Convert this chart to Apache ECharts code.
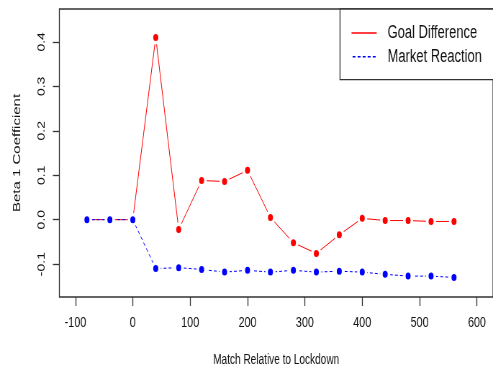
<!DOCTYPE html>
<html>
<head>
<meta charset="utf-8">
<script src="https://cdn.jsdelivr.net/npm/echarts@6/dist/echarts.min.js"></script>
<style>
  html, body { margin: 0; padding: 0; background: #fff; }
  #frame { width: 493px; height: 373px; overflow: hidden; position: relative; }
  /* the plot is laid out on a wider canvas and condensed horizontally */
  #chart { width: 685px; height: 373px; transform: scaleX(0.7197); transform-origin: 0 0; }
</style>
</head>
<body>
<div id="frame"><div id="chart"></div></div>
<script>
// match index relative to lockdown
const matchOffset = [-80, -40, 0, 40, 80, 120, 160, 200, 240, 280, 320, 360, 400, 440, 480, 520, 560];
// beta 1 coefficient, goal difference model
const goalDifference = [0, 0, 0, 0.410, -0.022, 0.088, 0.086, 0.111, 0.005, -0.052, -0.076, -0.034, 0.003, -0.002, -0.002, -0.004, -0.004];
// beta 1 coefficient, market reaction model
const marketReaction = [0, 0, 0, -0.110, -0.108, -0.112, -0.118, -0.114, -0.118, -0.114, -0.118, -0.116, -0.118, -0.123, -0.127, -0.127, -0.130];
// axis ticks
const xTicks = [-100, 0, 100, 200, 300, 400, 500, 600];
const yTicks = [-0.1, 0.0, 0.1, 0.2, 0.3, 0.4];

const FONT = "'Liberation Sans', Arial, Helvetica, sans-serif";
const INK = '#333';

const pairs = ys => matchOffset.map((x, i) => [x, ys[i]]);

// legend keys: a solid stroke and a dashed stroke, padded vertically to the key box
const W = 35, H = 18;
const pad = `M0,0L0.01,0L0,0ZM0,${H}L0.01,${H}L0,${H}Z`;
const solidKey = `path://${pad}M0,${H/2-0.7}h${W}v1.4h-${W}Z`;
let dashed = '';
for (let x = 0; x < W; x += 7) dashed += `M${x},${H/2-0.7}h4v1.4h-4Z`;
const dashedKey = `path://${pad}${dashed}`;

const chart = echarts.init(document.getElementById('chart'));
chart.setOption({
  animation: false,
  backgroundColor: '#fff',
  textStyle: { fontFamily: FONT },
  grid: {
    left: 82.5, right: -3, top: 9, bottom: 76,
    show: true, borderColor: INK, borderWidth: 1.3, backgroundColor: 'transparent'
  },
  xAxis: {
    type: 'value', min: -128, max: 628,
    name: 'Match Relative to Lockdown', nameLocation: 'middle', nameGap: 56,
    nameTextStyle: { fontSize: 14, color: '#111', fontFamily: FONT },
    axisLine: { show: false, onZero: false },
    splitLine: { show: false },
    axisTick: { show: true, length: 9, customValues: xTicks, lineStyle: { color: INK, width: 1.3 } },
    axisLabel: { customValues: xTicks, margin: 18, fontSize: 15, color: '#111', fontFamily: FONT,
      formatter: v => String(v) }
  },
  yAxis: {
    type: 'value', min: -0.174, max: 0.474,
    name: 'Beta 1 Coefficient', nameLocation: 'middle', nameGap: 51, nameRotate: 90,
    nameTextStyle: { fontSize: 15, color: '#111', fontFamily: FONT },
    axisLine: { show: false, onZero: false },
    splitLine: { show: false },
    axisTick: { show: true, length: 9, customValues: yTicks, lineStyle: { color: INK, width: 1.3 } },
    axisLabel: { customValues: yTicks, rotate: 90, margin: 17, fontSize: 14, color: '#111', fontFamily: FONT,
      formatter: v => v.toFixed(1) }
  },
  legend: {
    orient: 'vertical', left: 472.4, top: 9,
    padding: [15, 60, 14, 16],
    itemWidth: W, itemHeight: H, itemGap: 5.7,
    backgroundColor: '#fff', borderColor: INK, borderWidth: 1.3, borderRadius: 0,
    selectedMode: false,
    itemStyle: { borderWidth: 0 },
    textStyle: { fontSize: 18, color: '#111', fontFamily: FONT, padding: [0, 0, 0, 10] },
    data: [
      { name: 'Goal Difference', icon: solidKey, itemStyle: { color: '#ff0000', borderWidth: 0 } },
      { name: 'Market Reaction', icon: dashedKey, itemStyle: { color: '#0000ff', borderWidth: 0 } }
    ]
  },
  series: [
    {
      name: 'Goal Difference', type: 'line', data: pairs(goalDifference),
      symbol: 'circle', symbolSize: 10.5, silent: true,
      lineStyle: { color: '#ff0000', width: 1 },
      itemStyle: { color: '#ff0000', borderColor: '#fff', borderWidth: 3.5 },
      emphasis: { disabled: true }
    },
    {
      name: 'Market Reaction', type: 'line', data: pairs(marketReaction),
      symbol: 'circle', symbolSize: 10.5, silent: true,
      lineStyle: { color: '#0000ff', width: 1, type: [4, 3] },
      itemStyle: { color: '#0000ff', borderColor: '#fff', borderWidth: 3.5 },
      emphasis: { disabled: true }
    }
  ]
});
</script>
</body>
</html>
